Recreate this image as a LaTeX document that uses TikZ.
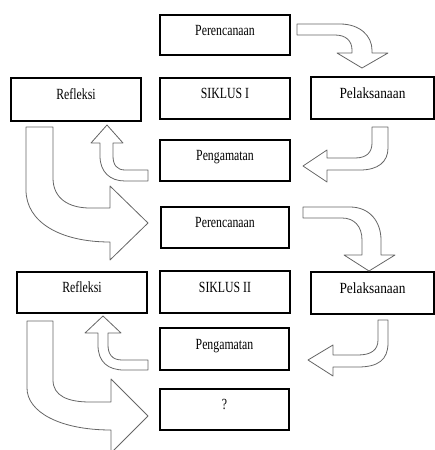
\documentclass[tikz,border=0pt]{standalone}
\usepackage{fontspec}
\setmainfont{Liberation Serif}
\newfontfamily\boxfont[FakeStretch=0.76]{Liberation Serif}
\newfontfamily\widefont[FakeStretch=0.86]{Liberation Serif}
\tikzset{
  box/.style={draw=black, line width=1.8pt, fill=white, rectangle, inner sep=0pt,
    text height=10pt, text depth=10pt, font=\boxfont\fontsize{15.5}{17}\selectfont},
  widebox/.style={box, font=\widefont\fontsize{15.5}{17}\selectfont},
  flow/.style={draw=black!60, line width=0.8pt, fill=white, line join=round}
}
\begin{document}
\begin{tikzpicture}[x=1pt,y=-1pt]
\useasboundingbox (0,0) rectangle (435,450);
\clip (0,0) rectangle (435,450);
% boxes
\node[box, minimum width=130pt, minimum height=40pt] (per1) at (225,35) {Perencanaan};
\node[box, minimum width=130pt, minimum height=41pt] (sik1) at (225,98.5) {SIKLUS I};
\node[widebox, minimum width=123pt, minimum height=42pt] (pel1) at (372.5,98) {Pelaksanaan};
\node[box, minimum width=130pt, minimum height=43pt] (ref1) at (76,99.5) {Refleksi};
\node[box, minimum width=130pt, minimum height=41pt] (pen1) at (225,160.5) {Pengamatan};
\node[box, minimum width=128pt, minimum height=41pt] (per2) at (225,227.5) {Perencanaan};
\node[box, minimum width=130pt, minimum height=42pt] (sik2) at (225,292) {SIKLUS II};
\node[widebox, minimum width=123pt, minimum height=42pt] (pel2) at (372.5,293) {Pelaksanaan};
\node[box, minimum width=130pt, minimum height=41pt] (ref2) at (82,292.5) {Refleksi};
\node[box, minimum width=129pt, minimum height=42pt] (pen2) at (224.5,349) {Pengamatan};
\node[box, minimum width=129pt, minimum height=41pt] (q) at (224.5,409.5) {?};
% block arrows, cycle I
\draw[flow] (297,24) -- (340,24) .. controls (360,24) and (372,36) .. (372,50) -- (372,53)
  -- (388,53) -- (362,68) -- (337,53) -- (352,53) -- (352,50)
  .. controls (352,41) and (346,35) .. (335,35) -- (297,35) -- cycle;
\draw[flow] (372,127) -- (388,127) -- (388,148) .. controls (388,162) and (378,170) .. (360,170)
  -- (327,170) -- (327,182) -- (303,166) -- (327,150) -- (327,158) -- (355,158)
  .. controls (367,158) and (372,152) .. (372,143) -- cycle;
\draw[flow] (148,170) -- (125,170) .. controls (117,170) and (113,165) .. (113,156) -- (113,143)
  -- (123,143) -- (107,125) -- (91,143) -- (100,143) -- (100,156)
  .. controls (100,172) and (110,181) .. (125,181) -- (148,181) -- cycle;
\draw[flow] (26,127) -- (53,127) -- (53,178) .. controls (53,198) and (68,208) .. (90,208)
  -- (110,208) -- (110,186) -- (148,223) -- (110,260) -- (110,242)
  .. controls (60,242) and (26,222) .. (26,190) -- cycle;
% block arrows, cycle II
\draw[flow] (303,207) -- (350,207) .. controls (370,207) and (381,222) .. (381,240) -- (381,255)
  -- (395,255) -- (369,271) -- (344,255) -- (362,255) -- (362,240)
  .. controls (362,226) and (354,218) .. (342,218) -- (303,218) -- cycle;
\draw[flow] (378,320) -- (388,320) -- (388,343) .. controls (388,360) and (378,367) .. (358,367)
  -- (333,367) -- (333,376) -- (308,360) -- (333,345) -- (333,355) -- (358,355)
  .. controls (371,355) and (378,350) .. (378,340) -- cycle;
\draw[flow] (148,360) -- (122,360) .. controls (112,360) and (108,354) .. (108,345) -- (108,333)
  -- (121,333) -- (103,316) -- (85,333) -- (98,333) -- (98,345)
  .. controls (98,362) and (108,370) .. (124,370) -- (148,370) -- cycle;
\draw[flow] (27,321) -- (53,321) -- (53,380) .. controls (53,396) and (68,402) .. (90,402)
  -- (111,402) -- (111,379) -- (148,416) -- (111,453) -- (111,430)
  .. controls (60,430) and (27,412) .. (27,388) -- cycle;
\end{tikzpicture}
\end{document}
